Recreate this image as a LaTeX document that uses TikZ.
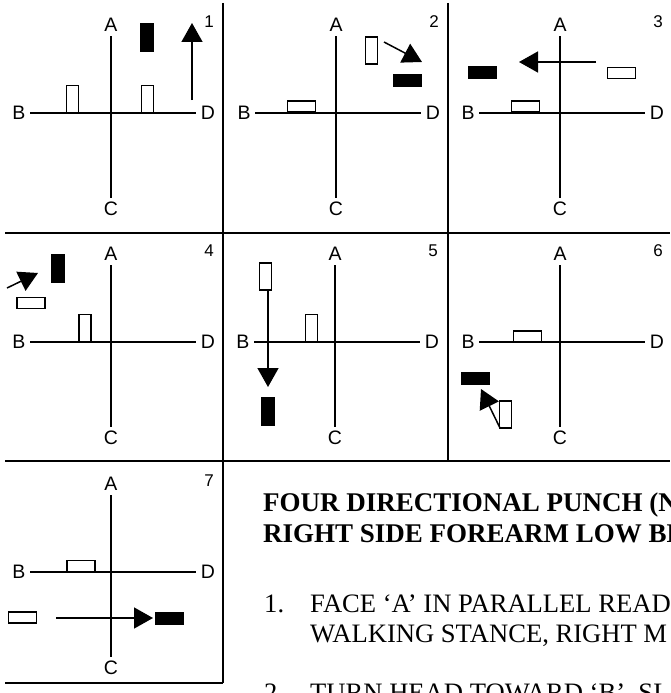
\documentclass[tikz,border=0pt]{standalone}
\usepackage{fontspec}
\setmainfont{Liberation Serif}
\newfontfamily\compassfont{Liberation Sans}
\usetikzlibrary{arrows.meta}
\tikzset{
  panelrule/.style={line width=2pt},
  crossline/.style={line width=1.6pt},
  dirlabel/.style={font=\compassfont\fontsize{19.5}{19.5}\selectfont, inner sep=4.3pt},
  panelnum/.style={font=\compassfont\fontsize{17}{17}\selectfont, inner sep=0pt},
  footup/.style={draw, line width=1.3pt, inner sep=0pt, minimum width=12pt, minimum height=27pt},
  footside/.style={draw, line width=1.3pt, inner sep=0pt, minimum width=28pt, minimum height=11pt},
  solidup/.style={fill=black, inner sep=0pt, minimum width=14pt, minimum height=29pt},
  solidside/.style={fill=black, inner sep=0pt, minimum width=29pt, minimum height=13pt},
  movearrow/.style={-{Triangle[length=19pt,width=21pt]}, line width=1.5pt},
  headline/.style={font=\bfseries\fontsize{27}{31}\selectfont, anchor=base west, inner sep=0pt},
  stepline/.style={font=\fontsize{26.6}{30}\selectfont, anchor=base west, inner sep=0pt}
}

\begin{document}
\begin{tikzpicture}[x=1pt, y=-1pt]
\useasboundingbox (0,0) rectangle (670,693);
\clip (0,0) rectangle (670,693);

% panel rules
\draw[panelrule] (5,232.5) -- (670,232.5);
\draw[panelrule] (5,461.3) -- (670,461.3);
\draw[panelrule] (5,683) -- (222.5,683);
\draw[panelrule] (222.5,3) -- (222.5,683);
\draw[panelrule] (447.5,3) -- (447.5,461.3);

% compass crosses
\foreach \n/\cx/\cy in {1/111/113, 2/336/113, 3/560/113, 4/111/342, 5/335/342, 6/560/342, 7/111/572} {
  \node[dirlabel] (A\n) at (\cx,\cy-88) {A};
  \node[dirlabel] (C\n) at (\cx,\cy+96) {C};
  \node[dirlabel] (B\n) at (\cx-92,\cy) {B};
  \node[dirlabel] (D\n) at (\cx+97,\cy) {D};
  \draw[crossline] (A\n) -- (C\n);
  \draw[crossline] (B\n) -- (D\n);
  \node[panelnum] (N\n) at (\cx+98,\cy-91) {\n};
}

% 1
\node[footup] (f1a) at (72.5,99) {};
\node[footup] (f1b) at (147.5,99) {};
\node[solidup] (s1) at (147,37.5) {};
\coordinate (m1a) at (192,100);
\coordinate (m1b) at (192,23);
\draw[movearrow] (m1a) -- (m1b);

% 2
\node[footside] (f2a) at (301.5,106.5) {};
\node[footup] (f2b) at (371.5,50.5) {};
\node[solidside] (s2) at (407.5,80.5) {};
\coordinate (m2a) at (384,42);
\coordinate (m2b) at (422,62);
\draw[movearrow] (m2a) -- (m2b);

% 3
\node[footside] (f3a) at (525.5,106.5) {};
\node[footside] (f3b) at (621.5,73) {};
\node[solidside] (s3) at (482,72.5) {};
\coordinate (m3a) at (596,62);
\coordinate (m3b) at (519,62);
\draw[movearrow] (m3a) -- (m3b);

% 4
\node[footup] (f4a) at (85,328) {};
\node[footside] (f4b) at (31,303) {};
\node[solidup] (s4) at (57.5,268.5) {};
\coordinate (m4a) at (7,288);
\coordinate (m4b) at (38,273);
\draw[movearrow] (m4a) -- (m4b);

% 5
\node[footup] (f5a) at (311.5,328) {};
\node[footup] (f5b) at (265.5,276.5) {};
\node[solidup] (s5) at (267.5,411) {};
\coordinate (m5a) at (268,291);
\coordinate (m5b) at (268,387);
\draw[movearrow] (m5a) -- (m5b);

% 6
\node[footside] (f6a) at (527.5,336.5) {};
\node[footup] (f6b) at (505.5,414.5) {};
\node[solidside] (s6) at (475.5,378.5) {};
\coordinate (m6a) at (500,428);
\coordinate (m6b) at (481,389);
\draw[movearrow] (m6a) -- (m6b);

% 7
\node[footside] (f7a) at (81,566) {};
\node[footside] (f7b) at (22.5,617.5) {};
\node[solidside] (s7) at (169,618.5) {};
\coordinate (m7a) at (56,618);
\coordinate (m7b) at (153,618);
\draw[movearrow] (m7a) -- (m7b);

% text
\node[headline] (head1) at (263,511) {FOUR DIRECTIONAL PUNCH (N};
\node[headline] (head2) at (263,542) {RIGHT SIDE FOREARM LOW BL};
\node[stepline] (num1) at (264,612) {1.};
\node[stepline] (step1a) at (310,612) {FACE ‘A’ IN PARALLEL READ};
\node[stepline] (step1b) at (310,642) {WALKING STANCE, RIGHT M};
\node[stepline] (num2) at (264,701) {2.};
\node[stepline] (step2a) at (310,701) {TURN HEAD TOWARD ‘B’, SL};
\end{tikzpicture}
\end{document}
